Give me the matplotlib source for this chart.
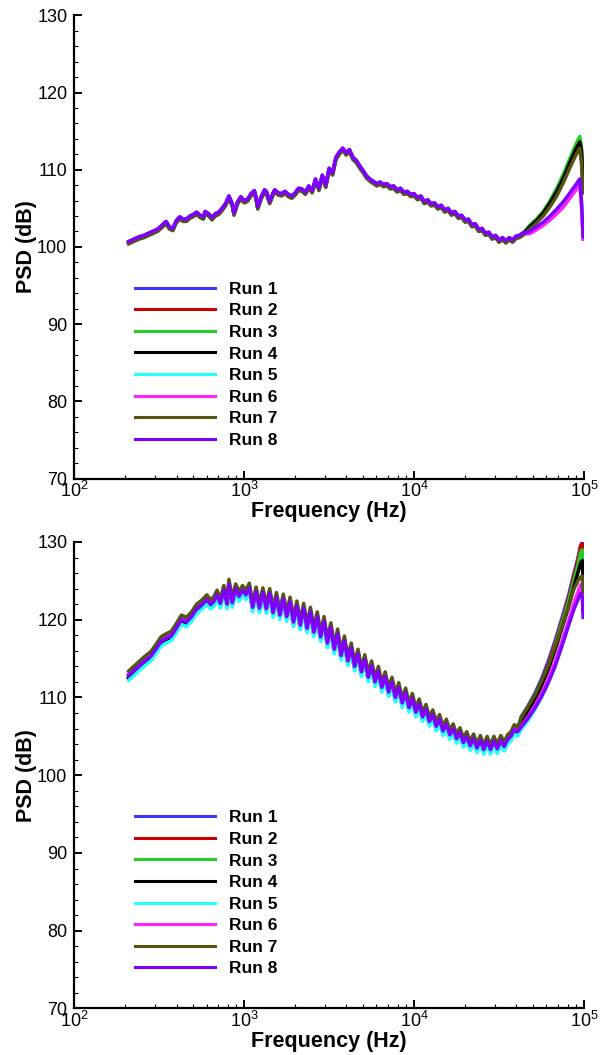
import numpy as np
import matplotlib
matplotlib.use("Agg")
import matplotlib.pyplot as plt
from matplotlib.ticker import FixedLocator, MultipleLocator

plt.rcParams['font.family'] = ['Liberation Sans', 'DejaVu Sans']
plt.rcParams['mathtext.fontset'] = 'custom'
plt.rcParams['mathtext.rm'] = 'Liberation Sans'

runs = ['Run 1', 'Run 2', 'Run 3', 'Run 4', 'Run 5', 'Run 6', 'Run 7', 'Run 8']
colors = ['#3a3aff', '#cc0000', '#22cc22', '#000000', '#22ffff', '#ff22ff', '#555511', '#8000ff']

# ---- top panel, shared part of the spectrum ----
freq_top = [209, 224, 240, 257, 269, 288, 309, 324, 347, 363,
            380, 398, 417, 437, 457, 479, 501, 525, 550, 575,
            589, 617, 646, 676, 708, 741, 776, 813, 851, 871,
            912, 955, 1000, 1047, 1096, 1148, 1175, 1202, 1259, 1318,
            1349, 1413, 1479, 1514, 1585, 1660, 1738, 1820, 1905, 1995,
            2089, 2188, 2291, 2399, 2512, 2630, 2754, 2884, 3020, 3162,
            3311, 3467, 3631, 3802, 3981, 4169, 4365, 4571, 4786, 5012,
            5248, 5495, 5754, 6026, 6310, 6607, 6918, 7244, 7586, 7943,
            8318, 8710, 9120, 9550, 10000, 10471, 10965, 11482, 12023, 12589,
            13183, 13804, 14454, 15136, 15849, 16596, 17378, 18197, 19055, 19953,
            20893, 21878, 22909, 23988, 25119, 26303, 27542, 28840, 30200, 31623,
            33113, 34674, 36308, 38019, 39811, 41687, 43652]
psd_top = [100.7, 101.0, 101.3, 101.5, 101.7, 102.0, 102.3, 102.7, 103.3, 102.6,
           102.4, 103.4, 103.9, 103.6, 103.6, 104.0, 104.2, 104.5, 104.1, 103.9,
           104.6, 104.3, 103.8, 104.3, 104.5, 105.0, 105.6, 106.6, 105.6, 104.4,
           105.8, 106.5, 106.0, 106.2, 106.9, 107.3, 106.4, 105.2, 106.5, 107.4,
           107.2, 105.9, 107.0, 107.4, 107.0, 106.9, 107.2, 106.8, 106.6, 107.0,
           107.6, 107.5, 107.1, 107.9, 107.3, 108.8, 107.6, 109.3, 108.0, 110.2,
           109.6, 111.6, 112.3, 112.8, 112.2, 112.6, 111.6, 111.2, 110.5, 109.9,
           109.2, 108.8, 108.5, 108.2, 108.4, 108.1, 108.2, 107.8, 107.9, 107.4,
           107.6, 107.1, 107.2, 106.8, 106.9, 106.4, 106.6, 105.9, 106.1, 105.6,
           105.7, 105.2, 105.4, 104.8, 105.0, 104.4, 104.6, 104.0, 104.1, 103.5,
           103.6, 102.9, 103.0, 102.3, 102.4, 101.8, 101.9, 101.3, 101.5, 100.9,
           101.2, 100.8, 101.2, 100.9, 101.4, 101.5, 101.8]
offset_top = [0.0, -0.2, -0.1, -0.15, -0.25, -0.1, -0.3, 0.0]

# top panel, high-frequency end where the runs split
freq_top_tail = [47863, 52481, 57544, 63096, 69183, 75858, 83176, 89125, 94406, 96605, 98855]
tail_top = [
    [102.5, 103.3, 104.3, 105.6, 107.0, 108.8, 110.8, 112.3, 113.3, 112.0, 108.0],
    [102.4, 103.2, 104.2, 105.4, 106.8, 108.6, 110.6, 112.0, 113.0, 111.5, 107.5],
    [102.8, 103.6, 104.6, 106.0, 107.6, 109.5, 111.6, 113.2, 114.3, 113.0, 109.0],
    [102.6, 103.4, 104.4, 105.7, 107.2, 109.0, 111.1, 112.6, 113.6, 112.5, 108.5],
    [101.9, 102.5, 103.1, 103.9, 104.8, 105.7, 106.9, 107.8, 108.6, 105.8, 101.5],
    [101.7, 102.2, 102.8, 103.5, 104.3, 105.2, 106.4, 107.3, 108.2, 105.5, 101.0],
    [102.3, 103.1, 104.0, 105.2, 106.6, 108.4, 110.4, 111.8, 112.8, 111.0, 107.0],
    [102.0, 102.6, 103.2, 104.0, 104.9, 105.9, 107.1, 108.0, 108.8, 106.0, 101.3],
]

# ---- bottom panel ----
freq_bot = [209, 224, 240, 257, 282, 302, 324, 347, 372, 398,
            427, 457, 490, 525, 562, 603, 631, 661, 692, 724,
            759, 794, 813, 851, 891, 933, 977, 1023, 1072, 1122,
            1175, 1230, 1288, 1349, 1413, 1479, 1549, 1622, 1698, 1778,
            1862, 1950, 2042, 2138, 2239, 2344, 2455, 2570, 2692, 2818,
            2951, 3090, 3236, 3388, 3548, 3715, 3890, 4074, 4266, 4467,
            4677, 4898, 5129, 5370, 5623, 5888, 6166, 6457, 6761, 7079,
            7413, 7762, 8128, 8511, 8913, 9333, 9772, 10233, 10715, 11220,
            11749, 12303, 12882, 13490, 14125, 14791, 15488, 16218, 16982, 17783,
            18621, 19498, 20417, 21380, 22387, 23442, 24547, 25704, 26915, 28184,
            29512, 30903, 32359, 33884, 35481, 37154, 38905, 40738]
psd_bot = [112.8, 113.4, 114.0, 114.6, 115.3, 116.2, 117.2, 117.6, 117.9, 118.9,
           120.0, 119.7, 120.4, 121.4, 121.9, 122.6, 122.0, 122.3, 123.2, 122.1,
           123.8, 122.0, 124.6, 122.2, 124.0, 123.0, 123.8, 123.2, 124.1, 121.6,
           123.6, 121.5, 123.5, 121.4, 123.4, 120.9, 122.9, 120.6, 122.7, 120.4,
           122.3, 119.7, 121.8, 119.3, 121.5, 118.9, 121.0, 118.4, 120.4, 117.8,
           119.8, 117.0, 119.0, 116.2, 118.2, 115.4, 117.3, 114.7, 116.4, 114.0,
           115.6, 113.3, 114.9, 112.6, 114.1, 112.0, 113.4, 111.3, 112.7, 110.7,
           112.0, 110.0, 111.3, 109.3, 110.6, 108.7, 109.9, 108.1, 109.2, 107.5,
           108.5, 106.9, 107.8, 106.3, 107.2, 105.7, 106.6, 105.2, 106.0, 104.7,
           105.5, 104.2, 105.0, 103.8, 104.7, 103.5, 104.5, 103.3, 104.4, 103.3,
           104.4, 103.4, 104.5, 103.7, 104.6, 105.0, 105.9, 105.6]
offset_bot = [0.2, -0.2, -0.3, -0.35, -0.6, 0.1, 0.6, 0.0]

freq_bot_tail = [42658, 46774, 51286, 56234, 61660, 67608, 74131, 81283, 87096, 92257, 95499, 97724, 98855]
tail_bot = [
    [107.5, 108.9, 110.5, 112.4, 114.7, 117.3, 120.2, 123.2, 125.9, 128.0, 129.6, 129.9, 127.5],
    [107.1, 108.5, 110.1, 112.0, 114.3, 116.9, 119.8, 122.8, 125.5, 127.7, 129.4, 129.8, 127.0],
    [106.9, 108.3, 109.9, 111.8, 114.0, 116.6, 119.5, 122.4, 125.0, 127.1, 128.7, 129.0, 126.5],
    [106.8, 108.1, 109.6, 111.5, 113.6, 116.1, 118.9, 121.7, 124.2, 126.1, 127.3, 127.6, 125.0],
    [105.9, 107.0, 108.4, 110.0, 111.9, 114.1, 116.7, 119.4, 121.6, 123.2, 124.2, 124.0, 121.5],
    [106.3, 107.5, 108.9, 110.5, 112.4, 114.6, 117.2, 119.9, 122.1, 123.6, 124.5, 124.2, 121.0],
    [107.4, 108.8, 110.3, 112.1, 114.1, 116.5, 119.1, 121.8, 123.9, 125.0, 125.5, 125.6, 123.5],
    [106.2, 107.3, 108.6, 110.1, 111.9, 114.0, 116.6, 119.3, 121.3, 122.6, 123.4, 123.0, 120.3],
]

fig = plt.figure(figsize=(6.08, 10.55), dpi=100)
ax_top = fig.add_axes([0.1222, 0.5464, 0.8383, 0.4391])
ax_bot = fig.add_axes([0.1222, 0.0441, 0.8383, 0.4422])


def draw_panel(ax, freq, psd, offsets, freq_tail, tails):
    for i in range(len(runs)):
        x = list(freq) + list(freq_tail)
        y = list(np.array(psd) + offsets[i]) + list(tails[i])
        ax.plot(x, y, color=colors[i], lw=2.5, label=runs[i])

    ax.set_xscale('log')
    ax.set_xlim(100, 100000)
    ax.set_ylim(70, 130)
    ax.xaxis.set_major_locator(FixedLocator([100, 1000, 10000, 100000]))
    ax.set_xticklabels([r'$\mathregular{10^{2}}$', r'$\mathregular{10^{3}}$',
                        r'$\mathregular{10^{4}}$', r'$\mathregular{10^{5}}$'])
    ax.yaxis.set_major_locator(MultipleLocator(10))
    ax.yaxis.set_minor_locator(MultipleLocator(2))
    ax.spines['top'].set_visible(False)
    ax.spines['right'].set_visible(False)
    ax.spines['left'].set_linewidth(1.6)
    ax.spines['bottom'].set_linewidth(1.6)
    ax.tick_params(which='major', direction='in', length=6, width=1.4, labelsize=13)
    ax.tick_params(axis='y', which='major', pad=5)
    ax.tick_params(axis='x', which='major', pad=2)
    ax.tick_params(which='minor', direction='in', length=3, width=0.8)
    ax.set_xlabel('Frequency (Hz)', fontsize=15.5, fontweight='bold', labelpad=0)
    ax.set_ylabel('PSD (dB)', fontsize=15.5, fontweight='bold', labelpad=0)
    leg = ax.legend(loc='upper left', bbox_to_anchor=(0.12, 0.425), frameon=False,
                    handlelength=4.6, handletextpad=0.8, labelspacing=0.37,
                    borderpad=0, borderaxespad=0,
                    prop={'size': 12.5, 'weight': 'bold'})
    for line in leg.get_lines():
        line.set_linewidth(2.2)


draw_panel(ax_top, freq_top, psd_top, offset_top, freq_top_tail, tail_top)
draw_panel(ax_bot, freq_bot, psd_bot, offset_bot, freq_bot_tail, tail_bot)

fig.savefig('out.png', dpi=100)
